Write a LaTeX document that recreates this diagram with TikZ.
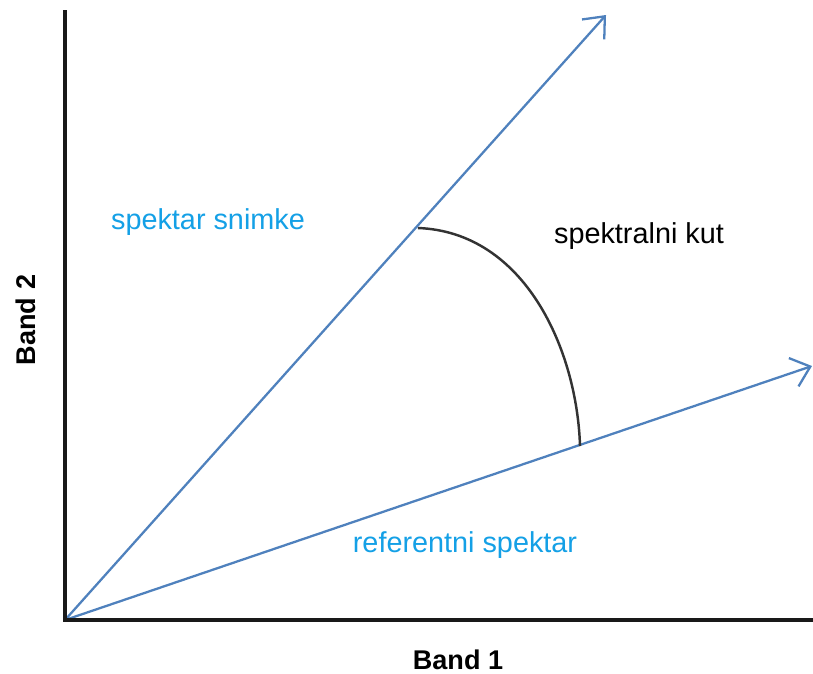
\documentclass[tikz,border=0pt]{standalone}
\usepackage{fontspec}
\setmainfont{Liberation Sans}
\usetikzlibrary{arrows.meta}
\definecolor{vecblue}{RGB}{79,129,189}
\definecolor{labelblue}{RGB}{20,160,230}
\tikzset{
  axisline/.style={draw=black!90, line width=2pt},
  vecarrow/.style={-{Straight Barb[length=10pt,width=17pt,line width=1.3pt]}, draw=vecblue, line width=1.3pt},
  anglearc/.style={draw=black!80, line width=1.4pt},
  veclabel/.style={font=\fontsize{16.4}{19}\selectfont, text=labelblue, inner sep=0pt},
  anglelabel/.style={font=\fontsize{16.4}{19}\selectfont, text=black, inner sep=0pt},
  axislabel/.style={font=\fontsize{15.4}{18}\bfseries\selectfont, text=black, inner sep=0pt}
}
\begin{document}
\begin{tikzpicture}[x=0.02cm, y=-0.02cm]
  \useasboundingbox (0,0) rectangle (813,673);

  \coordinate (orig) at (65,620);
  \coordinate (ytop) at (65,10);
  \coordinate (xend) at (813,620);
  \coordinate (v1) at (606,15);
  \coordinate (v2) at (812,366);
  \coordinate (a1) at (418,228);
  \coordinate (a2) at (580,446);

  % vectors
  \draw[vecarrow] (orig) -- (v1);
  \draw[vecarrow] (orig) -- (v2);

  % axes
  \draw[axisline] (ytop) -- (orig) -- (xend);

  % angle between spectra
  \draw[anglearc] (a1) .. controls (525,232) and (577,350) .. (a2);

  \node[veclabel] (snimka) at (208,222) {spektar snimke};
  \node[veclabel] (referenca) at (465,545) {referentni spektar};
  \node[anglelabel] (kut) at (639,236) {spektralni kut};
  \node[axislabel] (band1) at (458,660) {Band 1};
  \node[axislabel, rotate=90] (band2) at (26,320) {Band 2};
\end{tikzpicture}
\end{document}
